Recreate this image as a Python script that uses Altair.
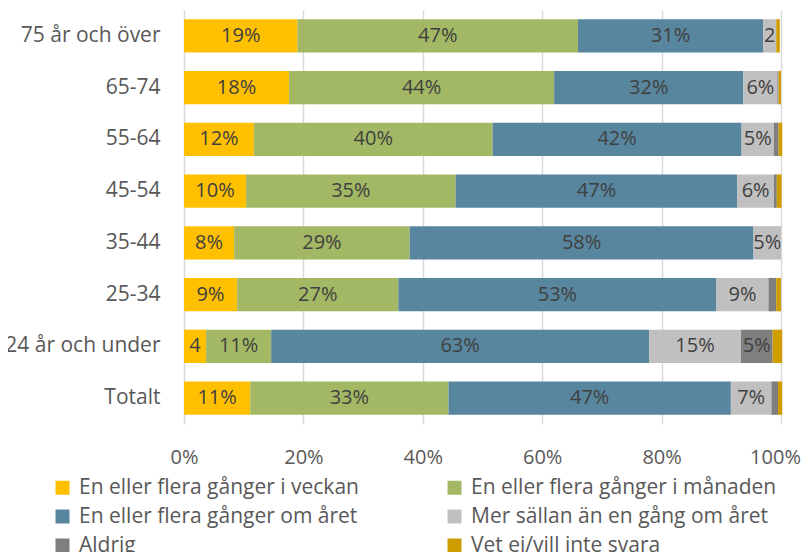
import altair as alt
import pandas as pd

categories = ["75 år och över", "65-74", "55-64", "45-54", "35-44", "25-34", "24 år och under", "Totalt"]
series = [
    "En eller flera gånger i veckan",
    "En eller flera gånger i månaden",
    "En eller flera gånger om året",
    "Mer sällan än en gång om året",
    "Aldrig",
    "Vet ej/vill inte svara",
]
colors = ["#FFC000", "#A2B864", "#58869E", "#C0C0C0", "#7F7F7F", "#D09D00"]

veckan  = [19.0, 17.6, 11.7, 10.4, 8.4, 8.9, 3.7, 11.1]
manaden = [47.0, 44.4, 40.0, 35.1, 29.4, 27.0, 10.9, 33.2]
aret    = [31.0, 31.7, 41.7, 47.2, 57.6, 53.3, 63.3, 47.3]
sallan  = [2.2, 5.7, 5.4, 6.1, 4.6, 8.7, 15.4, 6.8]
aldrig  = [0.0, 0.2, 0.8, 0.5, 0.0, 1.3, 5.3, 1.1]
vetej   = [0.6, 0.4, 0.6, 0.8, 0.0, 0.8, 1.6, 0.7]

values = [veckan, manaden, aret, sallan, aldrig, vetej]

rows = []
for ci, cat in enumerate(categories):
    start = 0.0
    for si, s in enumerate(series):
        v = values[si][ci]
        end = start + v
        if v >= 4.5:
            lab = f"{round(v)}%"
        elif v >= 1.8:
            lab = f"{round(v)}"
        else:
            lab = ""
        rows.append({"cat": cat, "series": s, "order": si, "v": v,
                     "start": start, "end": end, "mid": (start + end) / 2, "label": lab})
        start = end
df = pd.DataFrame(rows)

FONT = "Open Sans"

xscale = alt.Scale(domain=[0, 100], nice=False, zero=True)
yscale = alt.Scale(domain=categories, paddingInner=0.355, paddingOuter=0.1775)

bars = alt.Chart(df).mark_bar().encode(
    x=alt.X("start:Q", scale=xscale,
            axis=alt.Axis(values=[0, 20, 40, 60, 80, 100], labelExpr="datum.value + '%'",
                          grid=True, gridColor="#D9D9D9", gridWidth=1.5,
                          domain=False, ticks=False, labelPadding=23, labelFlush=False,
                          labelOffset=alt.condition("datum.value == 100", alt.value(-6), alt.value(0)),
                          labelFont=FONT, labelFontSize=20, labelColor="#595959", title=None)),
    x2="end:Q",
    y=alt.Y("cat:N", scale=yscale, sort=categories,
            axis=alt.Axis(domain=False, ticks=False, labelPadding=24, labelFont=FONT,
                          labelFontSize=21, labelColor="#595959", title=None, labelLimit=300)),
    color=alt.Color("series:N", scale=alt.Scale(domain=series, range=colors), sort=series,
                    legend=alt.Legend(title=None, orient="none", legendX=-132, legendY=467,
                                      direction="horizontal",
                                      columns=2, columnPadding=85, rowPadding=7,
                                      symbolType="square", symbolSize=196, symbolStrokeWidth=0,
                                      labelFont=FONT, labelFontSize=21, labelColor="#595959",
                                      labelOffset=6, labelLimit=400)),
    order=alt.Order("order:Q"),
)

texts = alt.Chart(df).mark_text(font=FONT, fontSize=20, color="#404040", baseline="middle").encode(
    x=alt.X("mid:Q", scale=xscale),
    y=alt.Y("cat:N", scale=yscale, sort=categories),
    text="label:N",
)

chart = alt.layer(bars, texts).properties(
    width=597, height=414,
    autosize=alt.AutoSizeParams(type="none"),
    padding={"left": 176, "top": 2, "right": 20, "bottom": 128},
).configure_view(stroke=None)

chart.save("out.html", embed_options={"renderer": "svg", "actions": False})
